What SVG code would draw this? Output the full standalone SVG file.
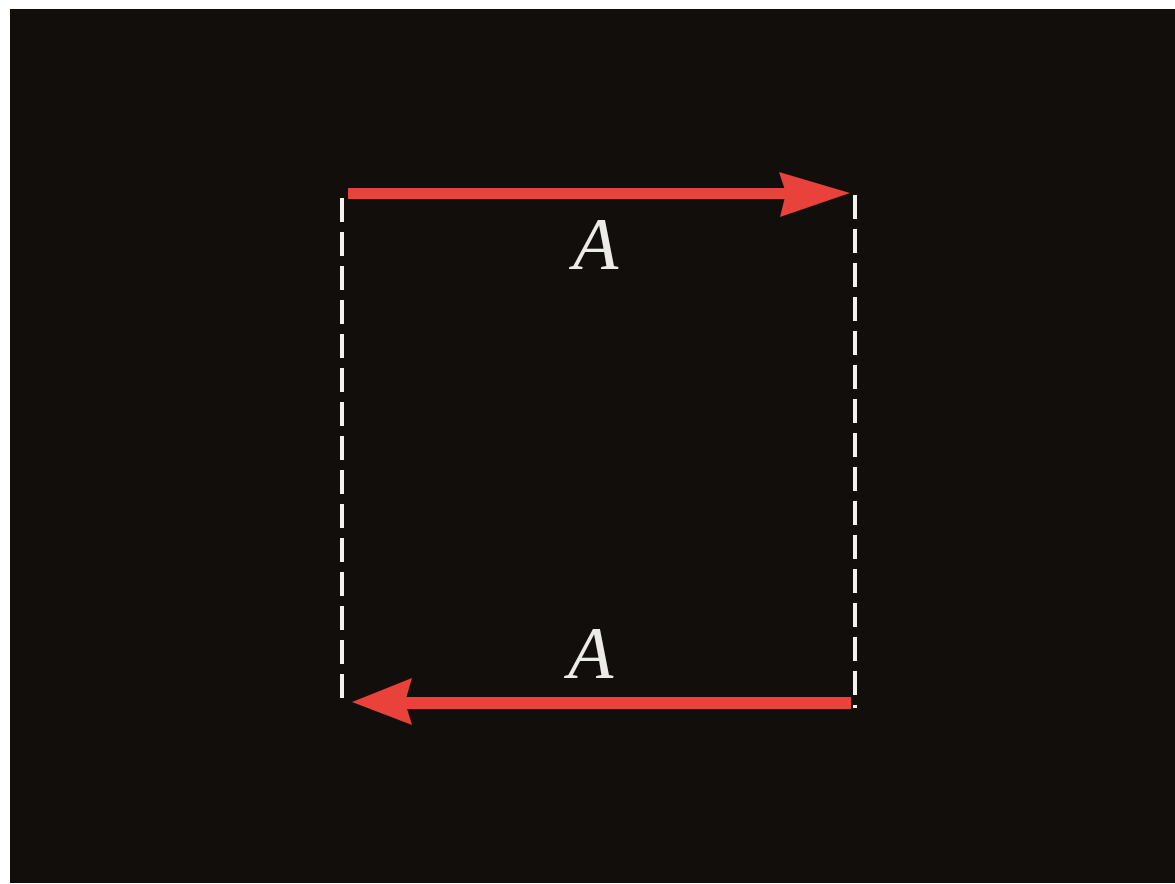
<svg xmlns="http://www.w3.org/2000/svg" width="1175" height="884" viewBox="0 0 1175 884">
<style>
.dash{stroke:#f2f2ee;stroke-width:4;stroke-dasharray:24 10;fill:none}
.arrow{fill:#e8423a}
.lbl{font-family:"Liberation Serif","DejaVu Serif",serif;font-style:italic;font-size:74px;fill:#ecebe6}
</style>
<rect width="1175" height="884" fill="#ffffff"/>
<rect x="10" y="9" width="1165" height="874" fill="#110e0c"/>
<g id="guides">
<line class="dash" x1="342" y1="198" x2="342" y2="706"/>
<line class="dash" x1="855" y1="195" x2="855" y2="708"/>
</g>
<g id="connectors">
<g id="arrow-top">
<rect class="arrow" x="348" y="188" width="440" height="11"/>
<polygon class="arrow" points="779,172 850,193 780,217 786,193"/>
</g>
<g id="arrow-bottom">
<rect class="arrow" x="405" y="697" width="446" height="12"/>
<polygon class="arrow" points="412,678 352,702 412,725 405,702"/>
</g>
</g>
<g id="label-top"><text class="lbl" x="573" y="269">A</text></g>
<g id="label-bottom"><text class="lbl" x="568" y="678">A</text></g>
</svg>
